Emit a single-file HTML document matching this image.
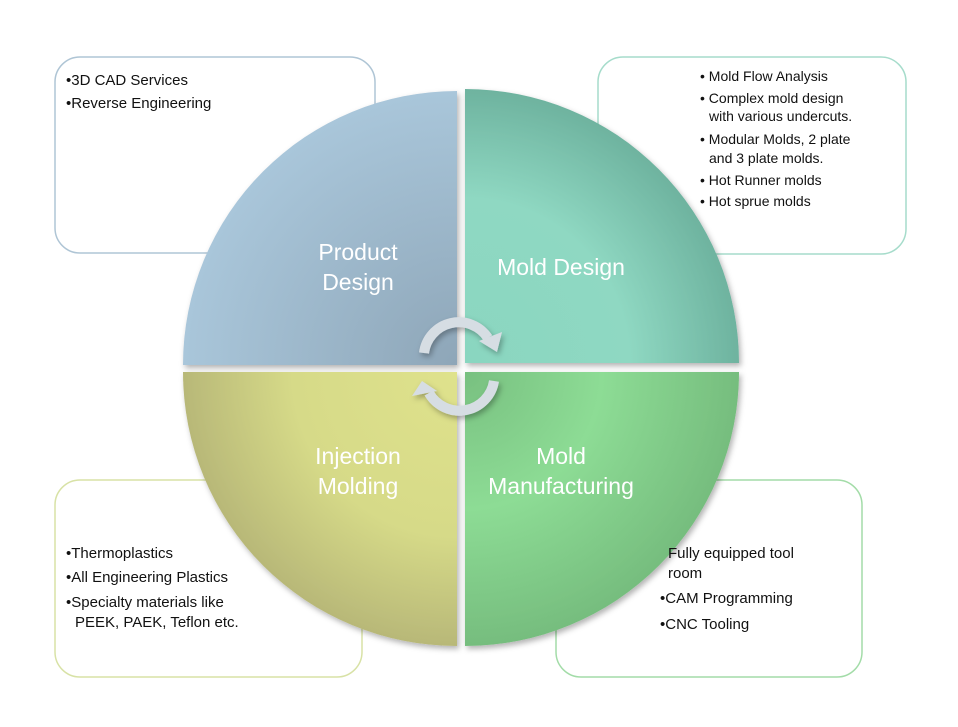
<!DOCTYPE html>
<html><head><meta charset="utf-8"><style>
html,body{margin:0;padding:0;background:#fff;}
svg{display:block;}
text{font-family:"Liberation Sans",sans-serif;}
</style></head><body>
<svg width="958" height="727" viewBox="0 0 958 727" xmlns="http://www.w3.org/2000/svg">
<defs>
<radialGradient id="gTL" cx="457" cy="365" r="274" gradientUnits="userSpaceOnUse"><stop offset="0" stop-color="#8ea6b8"/><stop offset="1" stop-color="#a9c6da"/></radialGradient>
<radialGradient id="gTR" cx="465" cy="363" r="274" gradientUnits="userSpaceOnUse"><stop offset="0" stop-color="#8ad6c0"/><stop offset="0.6" stop-color="#8fd8c2"/><stop offset="1" stop-color="#6eb39f"/></radialGradient>
<radialGradient id="gBL" cx="457" cy="372" r="274" gradientUnits="userSpaceOnUse"><stop offset="0" stop-color="#dfe28c"/><stop offset="0.6" stop-color="#d6da88"/><stop offset="1" stop-color="#b8b878"/></radialGradient>
<radialGradient id="gBR" cx="465" cy="372" r="274" gradientUnits="userSpaceOnUse"><stop offset="0" stop-color="#78c080"/><stop offset="0.5" stop-color="#8ddc95"/><stop offset="1" stop-color="#76bd7e"/></radialGradient>
<filter id="sh" x="-10%" y="-10%" width="130%" height="130%"><feDropShadow dx="2" dy="3" stdDeviation="3" flood-color="#000" flood-opacity="0.3"/></filter>
</defs>
<rect x="55" y="57" width="320" height="196" rx="25" fill="#fff" stroke="#afc5d5" stroke-width="1.5"/>
<rect x="598" y="57" width="308" height="197" rx="25" fill="#fff" stroke="#a6dccb" stroke-width="1.5"/>
<rect x="55" y="480" width="307" height="197" rx="25" fill="#fff" stroke="#d8e2a6" stroke-width="1.5"/>
<rect x="556" y="480" width="306" height="197" rx="25" fill="#fff" stroke="#a3dca8" stroke-width="1.5"/>
<g filter="url(#sh)">
<path d="M457,365 L183,365 A274,274 0 0 1 457,91 Z" fill="url(#gTL)"/>
<path d="M465,363 L465,89 A274,274 0 0 1 739,363 Z" fill="url(#gTR)"/>
<path d="M457,372 L457,646 A274,274 0 0 1 183,372 Z" fill="url(#gBL)"/>
<path d="M465,372 L739,372 A274,274 0 0 1 465,646 Z" fill="url(#gBR)"/>
</g>
<g fill="#fff" font-size="23" text-anchor="middle">
<text x="358" y="260">Product</text><text x="358" y="290">Design</text>
<text x="561" y="275">Mold Design</text>
<text x="358" y="464">Injection</text><text x="358" y="494">Molding</text>
<text x="561" y="464">Mold</text><text x="561" y="494">Manufacturing</text>
</g>
<g filter="url(#sh)">
<path d="M424,353 A35,35 0 0 1 488,338" fill="none" stroke="#d6dde3" stroke-width="10"/>
<polygon points="479,341 502,332 497,352" fill="#d6dde3"/>
<path d="M494,381 A35,35 0 0 1 429,393" fill="none" stroke="#d6dde3" stroke-width="10"/>
<polygon points="412,396 437,391 422,381" fill="#d6dde3"/>
</g>
<g font-size="15" fill="#111">
<text x="66" y="85">•3D CAD Services</text>
<text x="66" y="108">•Reverse Engineering</text>
<g font-size="14"><text x="700" y="81">• Mold Flow Analysis</text>
<text x="700" y="103">• Complex mold design</text>
<text x="709" y="121">with various undercuts.</text>
<text x="700" y="144">• Modular Molds, 2 plate</text>
<text x="709" y="163">and 3 plate molds.</text>
<text x="700" y="185">• Hot Runner molds</text>
<text x="700" y="206">• Hot sprue molds</text></g>
<text x="66" y="558">•Thermoplastics</text>
<text x="66" y="582">•All Engineering Plastics</text>
<text x="66" y="607">•Specialty materials like</text>
<text x="75" y="627">PEEK, PAEK, Teflon etc.</text>
<text x="668" y="558">Fully equipped tool</text>
<text x="668" y="578">room</text>
<text x="660" y="603">•CAM Programming</text>
<text x="660" y="629">•CNC Tooling</text>
</g>
</svg>
</body></html>
